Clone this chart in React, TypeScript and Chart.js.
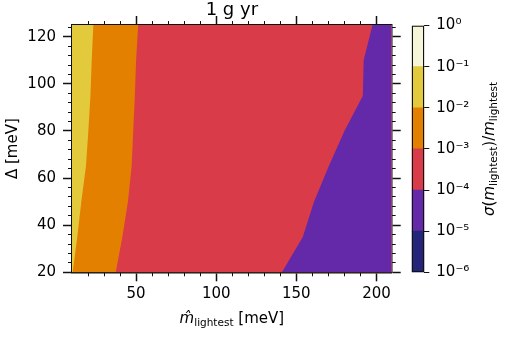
import React, { useEffect, useRef } from 'react';
import { Chart, registerables } from 'chart.js';

Chart.register(...registerables);
Chart.defaults.font.family = "'DejaVu Sans'";

// ---- data ----
const M_MIN = 10;
const M_MAX = 209.5;
const D_MIN = 20;
const D_MAX = 125;
const DELTA = [20, 35, 50, 65, 80, 95, 110, 125];
// m_lightest [meV] where sigma/m crosses each level, for each DELTA row
const LEFT_EDGE = [10, 10, 10, 10, 10, 10, 10, 10];
const B_1E2 = [10.4, 13.3, 15.8, 18.7, 20.2, 21.5, 22.3, 23.3];
const B_1E3 = [37.3, 41.4, 44.9, 47.2, 48.2, 49.2, 50.0, 51.3];
const B_1E4 = [141, 154, 161, 170.2, 180, 191.5, 192, 197.5];

const X_MAJOR = [50, 100, 150, 200];
const X_MINOR = [20, 30, 40, 60, 70, 80, 90, 110, 120, 130, 140, 160, 170, 180, 190];
const Y_MAJOR = [20, 40, 60, 80, 100, 120];
const Y_MINOR = [24, 28, 32, 36, 44, 48, 52, 56, 64, 68, 72, 76, 84, 88, 92, 96, 104, 108, 112, 116, 124];

const CB_LEVELS = [1e-6, 1e-5, 1e-4, 1e-3, 1e-2, 1e-1, 1];
const CB_COLORS = ['#23247a', '#6429a9', '#da3b49', '#e48000', '#e3c93c', '#f5f5d7'];
const CB_TICK_LABELS = ['10⁻⁶', '10⁻⁵', '10⁻⁴', '10⁻³', '10⁻²', '10⁻¹', '10⁰'];

const INK = '#111';
const FONT = { family: "'DejaVu Sans'", size: 15 };

type Part = { t: string; size: number; italic?: boolean; dy?: number };

function drawRich(ctx: CanvasRenderingContext2D, parts: Part[], cx: number, cy: number, rot: number) {
  ctx.save();
  ctx.translate(cx, cy);
  ctx.rotate(rot);
  ctx.textBaseline = 'alphabetic';
  ctx.textAlign = 'left';
  ctx.fillStyle = '#000';
  const fontOf = (p: Part) => `${p.italic ? 'italic ' : ''}${p.size}px 'DejaVu Sans'`;
  let total = 0;
  const widths = parts.map((p) => {
    ctx.font = fontOf(p);
    const w = ctx.measureText(p.t).width;
    total += w;
    return w;
  });
  let x = -total / 2;
  parts.forEach((p, i) => {
    ctx.font = fontOf(p);
    ctx.fillText(p.t, x, p.dy || 0);
    x += widths[i];
  });
  ctx.restore();
}

const region = (bound: number[]) =>
  bound
    .map((x, i) => ({ x, y: DELTA[i] }))
    .concat(DELTA.slice().reverse().map((d) => ({ x: M_MAX, y: d })));

const fixedTicks = (vals: number[]) => (s: any) => {
  s.ticks = vals.map((v) => ({ value: v }));
};

function axis(
  ax: 'x' | 'y',
  position: string,
  ticks: number[],
  size: number,
  major: boolean,
  showLabels: boolean,
  extra: any = {}
) {
  return {
    type: 'linear',
    axis: ax,
    position,
    min: ax === 'x' ? M_MIN : D_MIN,
    max: ax === 'x' ? M_MAX : D_MAX,
    weight: major ? 1 : 0,
    afterBuildTicks: fixedTicks(ticks),
    afterFit: (s: any) => {
      if (ax === 'x') s.height = size;
      else s.width = size;
    },
    grid: {
      drawOnChartArea: false,
      drawTicks: true,
      tickLength: major ? 9 : 4,
      tickWidth: major ? 1.5 : 1,
      tickColor: INK,
    },
    border: { display: major, color: INK, width: 1.5 },
    ticks: {
      display: showLabels,
      autoSkip: false,
      maxRotation: 0,
      font: FONT,
      color: '#000',
      padding: ax === 'x' ? 4 : 7,
    },
    ...extra,
  };
}

const mainLabels = {
  id: 'mainLabels',
  afterDraw(chart: any) {
    const { ctx, chartArea } = chart;
    const cx = (chartArea.left + chartArea.right) / 2;
    drawRich(
      ctx,
      [
        { t: 'm\u0302', size: 15, italic: true },
        { t: 'lightest', size: 10.5, dy: 2.5 },
        { t: ' [meV]', size: 15 },
      ],
      cx,
      chartArea.bottom + 51,
      0
    );
  },
};

const cbLabels = {
  id: 'cbLabels',
  afterDraw(chart: any) {
    const { ctx, chartArea } = chart;
    const cy = (chartArea.top + chartArea.bottom) / 2;
    drawRich(
      ctx,
      [
        { t: 'σ', size: 15, italic: true },
        { t: '(', size: 15 },
        { t: 'm', size: 15, italic: true },
        { t: 'lightest', size: 10.5, dy: 2.5 },
        { t: ')/', size: 15 },
        { t: 'm', size: 15, italic: true },
        { t: 'lightest', size: 10.5, dy: 2.5 },
      ],
      94,
      cy,
      -Math.PI / 2
    );
  },
};

export default function App() {
  const mainRef = useRef<HTMLCanvasElement>(null);
  const cbRef = useRef<HTMLCanvasElement>(null);

  useEffect(() => {
    const layers = [
      { bound: B_1E4, color: CB_COLORS[1] },
      { bound: B_1E3, color: CB_COLORS[2] },
      { bound: B_1E2, color: CB_COLORS[3] },
      { bound: LEFT_EDGE, color: CB_COLORS[4] },
    ];
    const main = new Chart(mainRef.current as HTMLCanvasElement, {
      type: 'scatter',
      data: {
        datasets: layers.map((l) => ({
          data: region(l.bound),
          showLine: true,
          fill: 'shape',
          backgroundColor: l.color,
          borderColor: 'rgba(0,0,0,0)',
          borderWidth: 0,
          pointRadius: 0,
          pointHoverRadius: 0,
        })),
      } as any,
      options: {
        responsive: false,
        animation: false,
        devicePixelRatio: 1,
        layout: { padding: 0 },
        events: [],
        plugins: {
          legend: { display: false },
          tooltip: { enabled: false },
          title: {
            display: true,
            text: '1 g yr',
            fullSize: false,
            padding: { top: 0, bottom: 0 },
            color: '#000',
            font: { family: "'DejaVu Sans'", size: 18, weight: 'normal' },
          },
        },
        scales: {
          x: axis('x', 'bottom', X_MAJOR, 64.7, true, true),
          xMinor: axis('x', 'bottom', X_MINOR, 0, false, false),
          xTop: axis('x', 'top', X_MAJOR, 3.4, true, false),
          xTopMinor: axis('x', 'top', X_MINOR, 0, false, false),
          y: axis('y', 'left', Y_MAJOR, 72, true, true, {
            title: {
              display: true,
              text: 'Δ [meV]',
              color: '#000',
              font: FONT,
              padding: { top: 4, bottom: 0 },
            },
          }),
          yMinor: axis('y', 'left', Y_MINOR, 0, false, false),
          yRight: axis('y', 'right', Y_MAJOR, 114.3, true, false),
          yRightMinor: axis('y', 'right', Y_MINOR, 0, false, false),
        } as any,
      },
      plugins: [mainLabels],
    });

    const cbDatasets: any[] = [
      {
        data: [[CB_LEVELS[0], CB_LEVELS[CB_LEVELS.length - 1]]],
        backgroundColor: 'rgba(0,0,0,0)',
        borderColor: INK,
        borderWidth: 1,
        borderSkipped: false,
        grouped: false,
        barPercentage: 1,
        categoryPercentage: 1,
      },
      ...CB_COLORS.map((c, i) => ({
        data: [[CB_LEVELS[i], CB_LEVELS[i + 1]]],
        backgroundColor: c,
        borderWidth: 0,
        grouped: false,
        barPercentage: 1,
        categoryPercentage: 1,
      })),
    ];
    const cb = new Chart(cbRef.current as HTMLCanvasElement, {
      type: 'bar',
      data: { labels: [''], datasets: cbDatasets },
      options: {
        responsive: false,
        animation: false,
        devicePixelRatio: 1,
        events: [],
        layout: { padding: { left: 11.7, top: 25.5, right: 0, bottom: 64.7 } },
        plugins: { legend: { display: false }, tooltip: { enabled: false } },
        scales: {
          x: { display: false },
          y: {
            type: 'logarithmic',
            position: 'right',
            min: CB_LEVELS[0],
            max: CB_LEVELS[CB_LEVELS.length - 1],
            afterBuildTicks: fixedTicks(CB_LEVELS),
            afterFit: (s: any) => {
              s.width = 81.7;
            },
            grid: { drawOnChartArea: false, drawTicks: true, tickLength: 5, tickWidth: 1, tickColor: INK },
            border: { display: false },
            ticks: {
              autoSkip: false,
              font: FONT,
              color: '#000',
              padding: 7,
              callback: (_v: any, i: number) => CB_TICK_LABELS[i],
            },
          },
        } as any,
      },
      plugins: [cbLabels],
    });

    return () => {
      main.destroy();
      cb.destroy();
    };
  }, []);

  return (
    <div style={{ position: 'absolute', left: 0, top: 0, width: 506, height: 337, background: '#fff' }}>
      <canvas ref={mainRef} width={506} height={337} style={{ position: 'absolute', left: 0, top: 0 }} />
      <canvas ref={cbRef} width={106} height={337} style={{ position: 'absolute', left: 400, top: 0 }} />
    </div>
  );
}
